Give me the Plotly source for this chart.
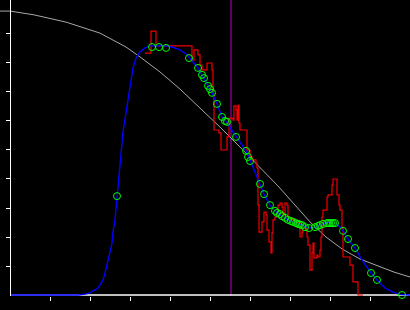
import plotly.graph_objects as go

# Gray reference curve
gray_x = [-0.25, 0, 0.6, 1.4, 2.25, 2.9, 3.25, 3.75, 4.25, 4.75, 5.25, 5.75, 6.25, 6.7, 7.1, 7.5, 7.9, 8.3, 8.75, 9.2, 9.6, 10]
gray_y = [9.79, 9.79, 9.66, 9.41, 9.03, 8.55, 8.21, 7.69, 7.10, 6.45, 5.79, 5.10, 4.38, 3.76, 3.14, 2.52, 2.0, 1.59, 1.24, 1.0, 0.79, 0.62]

# Blue fitted curve
blue_x = [0, 1.7, 1.875, 2.0, 2.075, 2.175, 2.25, 2.325, 2.375, 2.45, 2.5, 2.55, 2.575, 2.625, 2.675, 2.75, 2.825,
          2.925, 3.0, 3.075, 3.15, 3.25, 3.375, 3.5, 3.7, 3.875, 4.05, 4.25, 4.4, 4.5, 4.6, 4.7, 4.8, 4.875, 4.95,
          5.05, 5.175, 5.3, 5.425, 5.525, 5.65, 5.775, 5.9, 6.0, 6.125, 6.25, 6.35, 6.5, 6.625, 6.8, 6.95, 7.075,
          7.2, 7.375, 7.475, 7.625, 7.75, 7.875, 8.0, 8.125, 8.225, 8.325, 8.45, 8.625, 8.8, 9.025, 9.175, 9.375,
          9.575, 9.75, 10]
blue_y = [0, 0, 0.03, 0.07, 0.14, 0.21, 0.34, 0.52, 0.76, 1.14, 1.48, 1.79, 2.17, 2.59, 3.28, 4.48, 5.62,
          6.48, 7.14, 7.83, 8.17, 8.38, 8.52, 8.59, 8.60, 8.59, 8.55, 8.45, 8.31, 8.17, 8.0, 7.83, 7.59, 7.41, 7.21,
          6.97, 6.59, 6.14, 5.93, 5.72, 5.45, 5.21, 4.97, 4.66, 4.24, 3.83, 3.48, 3.10, 2.90, 2.72, 2.59, 2.52,
          2.45, 2.34, 2.31, 2.34, 2.41, 2.48, 2.52, 2.48, 2.38, 2.21, 1.93, 1.62, 1.21, 0.76, 0.52, 0.24,
          0.10, 0.02, 0]

# Green sample points
pt_x = [2.675, 3.55, 3.725, 3.9, 4.475, 4.7, 4.8, 4.85, 4.95, 5.0, 5.05, 5.175, 5.3, 5.375, 5.425, 5.65, 5.9,
        5.95, 6.0, 6.25, 6.35, 6.5, 6.625, 6.675, 6.75, 6.8, 6.875, 6.95, 7.025, 7.075, 7.15, 7.2, 7.25, 7.3,
        7.375, 7.475, 7.625, 7.7, 7.75, 7.825, 7.925, 7.975, 8.025, 8.075, 8.125, 8.325, 8.45, 8.625, 9.025,
        9.175, 9.8]
pt_y = [3.41, 8.55, 8.55, 8.52, 8.17, 7.83, 7.59, 7.48, 7.21, 7.10, 6.97, 6.59, 6.14, 6.0, 5.97, 5.45, 4.97,
        4.76, 4.62, 3.83, 3.48, 3.10, 2.90, 2.83, 2.79, 2.72, 2.66, 2.59, 2.55, 2.52, 2.48, 2.45, 2.43, 2.41,
        2.34, 2.31, 2.34, 2.38, 2.41, 2.45, 2.48, 2.48, 2.48, 2.48, 2.48, 2.21, 1.93, 1.62, 0.76,
        0.52, 0.0]

# Red measured step series
red_x = [3.375, 3.525, 3.65, 4.55, 4.6, 4.7, 4.75, 4.8, 4.925, 5.05, 5.075, 5.1, 5.225, 5.275, 5.425, 5.475,
         5.575, 5.6, 5.65, 5.675, 5.7, 5.725, 5.75, 5.925, 6.0, 6.05, 6.15, 6.175, 6.2, 6.225, 6.3, 6.35, 6.4,
         6.425, 6.475, 6.525, 6.55, 6.575, 6.625, 6.675, 6.7, 6.75, 6.8, 6.825, 6.875, 6.925, 6.95, 7.05, 7.125,
         7.175, 7.225, 7.25, 7.3, 7.325, 7.4, 7.425, 7.45, 7.5, 7.55, 7.575, 7.6, 7.675, 7.7, 7.75, 7.775, 7.8,
         7.825, 7.925, 7.95, 8.05, 8.075, 8.175, 8.225, 8.25, 8.3, 8.325, 8.5, 8.575, 8.7, 8.825]
red_y = [8.34, 9.10, 8.59, 8.10, 8.45, 8.28, 7.93, 7.76, 8.0, 7.76, 6.90, 5.69, 5.59, 5.0, 5.45, 6.10,
         6.03, 6.52, 6.38, 6.03, 6.55, 5.93, 5.69, 5.0, 4.76, 4.66, 4.55, 4.38, 3.10, 2.17, 2.52, 2.86, 2.76,
         2.24, 1.83, 1.45, 2.14, 2.59, 2.69, 2.86, 3.10, 3.17, 3.03, 2.76, 3.17, 3.10, 2.66, 2.59, 2.52,
         2.41, 2.52, 2.0, 2.17, 2.31, 2.31, 2.0, 1.72, 0.86, 1.45, 1.79, 1.28, 1.38, 1.31, 1.55, 2.0, 2.69,
         2.93, 3.38, 3.45, 3.79, 4.0, 3.45, 3.10, 2.93, 2.31, 1.31, 1.03, 0.45, 0.0, 0.0]

marker_x = 5.525
tick_vals = [1, 2, 3, 4, 5, 6, 7, 8, 9]
x_range = [-0.25, 10]
y_range = [-0.0345, 10.172]

fig = go.Figure()
fig.add_trace(go.Scatter(x=gray_x, y=gray_y, mode="lines", line=dict(color="#a8a8a8", width=1), hoverinfo="skip"))
fig.add_trace(go.Scatter(x=red_x, y=red_y, mode="lines", line=dict(color="#f00000", width=1.2, shape="hv"),
                         cliponaxis=False, hoverinfo="skip"))
fig.add_trace(go.Scatter(x=blue_x, y=blue_y, mode="lines", line=dict(color="#0000ff", width=1.4), hoverinfo="skip"))
fig.add_trace(go.Scatter(x=pt_x, y=pt_y, mode="markers", cliponaxis=False,
                         marker=dict(symbol="circle-open", size=7, color="#00ff00", line=dict(width=1, color="#00ff00")),
                         hoverinfo="skip"))

fig.add_shape(type="line", xref="x", yref="paper", x0=marker_x, x1=marker_x, y0=0, y1=1,
              line=dict(color="#9a009a", width=1.2), layer="below")
fig.add_shape(type="line", xref="x", yref="y", x0=0, x1=x_range[1], y0=0, y1=0,
              line=dict(color="white", width=1.5), layer="below")

fig.update_layout(
    width=410, height=310,
    margin=dict(l=0, r=0, t=0, b=14),
    paper_bgcolor="black", plot_bgcolor="black",
    showlegend=False,
    xaxis=dict(range=x_range, showgrid=False, zeroline=False, showline=False,
               ticks="outside", tickvals=tick_vals, ticklen=4, tickwidth=1, tickcolor="white",
               showticklabels=False),
    yaxis=dict(range=y_range, showgrid=False, zeroline=False, showline=True, linecolor="white", linewidth=1,
               anchor="free", position=10 / 410,
               ticks="outside", tickvals=tick_vals, ticklen=4, tickwidth=1, tickcolor="white",
               showticklabels=False),
)

fig.write_html("out.html")
